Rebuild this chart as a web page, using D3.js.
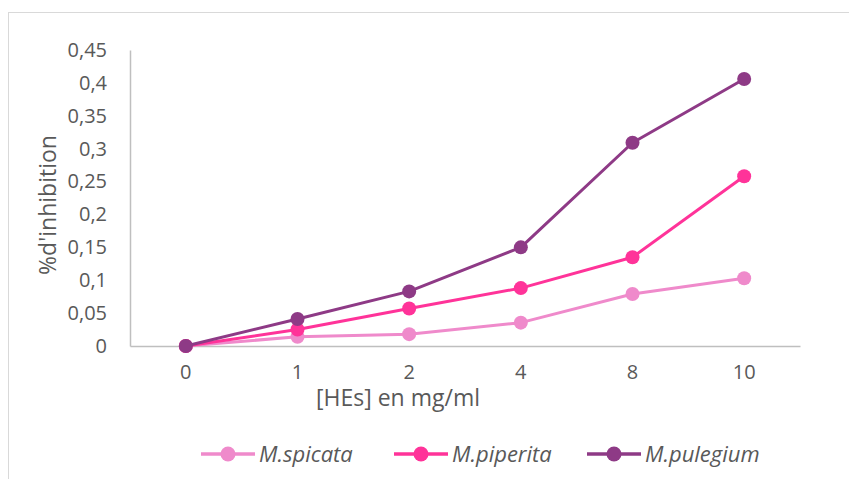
<!DOCTYPE html>
<html>
<head>
<meta charset="utf-8">
<script src="https://cdn.jsdelivr.net/npm/d3@7"></script>
<style>
  html, body { margin: 0; padding: 0; background: #fff; }
  svg { display: block; }
  text { font-family: "Open Sans", "Noto Sans", sans-serif; fill: #595959; }
</style>
</head>
<body>
<svg id="chart" width="849" height="479"></svg>
<script>
// Concentrations of essential oil (mg/ml)
const concentrations = ["0", "1", "2", "4", "8", "10"];
// Inhibition fraction per species
const spicata  = [0, 0.014, 0.018, 0.0355, 0.079, 0.103];
const piperita = [0, 0.025, 0.057, 0.088, 0.135, 0.258];
const pulegium = [0, 0.041, 0.083, 0.150, 0.309, 0.406];
const yTicks = [0, 0.05, 0.1, 0.15, 0.2, 0.25, 0.3, 0.35, 0.4, 0.45];

const seriesList = [
  { name: "M.spicata",  values: spicata,  color: "#EF8ACB" },
  { name: "M.piperita", values: piperita, color: "#FF3399" },
  { name: "M.pulegium", values: pulegium, color: "#8E3A86" }
];

const svg = d3.select("#chart");

// outer chart frame
svg.append("rect")
  .attr("x", 8.5).attr("y", 12.5)
  .attr("width", 860).attr("height", 480)
  .attr("fill", "none").attr("stroke", "#d9d9d9").attr("stroke-width", 1);

const x = d3.scaleBand().domain(concentrations).range([130, 800]);
const y = d3.scaleLinear().domain([0, 0.45]).range([346, 50]);

const fmt = d => d3.format("")(+d.toFixed(2)).replace(".", ",");

// y axis
const yAxis = svg.append("g")
  .attr("transform", "translate(130,0)")
  .call(d3.axisLeft(y).tickValues(yTicks).tickFormat(fmt).tickSize(0).tickPadding(23));
yAxis.select(".domain").attr("stroke", "#bfbfbf").attr("stroke-width", 1.5);
yAxis.selectAll("text").attr("font-size", 20).style("fill", "#595959")
  .attr("font-family", "'Open Sans', sans-serif");

// x axis
const xAxis = svg.append("g")
  .attr("transform", "translate(0,346)")
  .call(d3.axisBottom(x).tickSize(0).tickPadding(19));
xAxis.select(".domain").attr("stroke", "#bfbfbf").attr("stroke-width", 1.5);
xAxis.selectAll("text").attr("font-size", 20).style("fill", "#595959")
  .attr("font-family", "'Open Sans', sans-serif");

// axis titles
svg.append("text")
  .attr("x", 398).attr("y", 406)
  .attr("text-anchor", "middle")
  .attr("font-size", 23)
  .text("[HEs] en mg/ml");

svg.append("text")
  .attr("transform", "translate(56,205) rotate(-90)")
  .attr("text-anchor", "middle")
  .attr("font-size", 23)
  .text("%d'inhibition");

// series lines and markers
const line = d3.line()
  .x((d, i) => x(concentrations[i]) + x.bandwidth() / 2)
  .y(d => y(d));

seriesList.forEach(s => {
  const g = svg.append("g");
  g.append("path")
    .datum(s.values)
    .attr("d", line)
    .attr("fill", "none")
    .attr("stroke", s.color)
    .attr("stroke-width", 3)
    .attr("stroke-linejoin", "round");
  g.selectAll("circle")
    .data(s.values)
    .join("circle")
    .attr("cx", (d, i) => x(concentrations[i]) + x.bandwidth() / 2)
    .attr("cy", d => y(d))
    .attr("r", 7)
    .attr("fill", s.color);
});

// legend
const legendX = [201, 394, 587];
seriesList.forEach((s, i) => {
  const g = svg.append("g").attr("transform", `translate(${legendX[i]},454)`);
  g.append("line")
    .attr("x1", 0).attr("x2", 54)
    .attr("y1", 0).attr("y2", 0)
    .attr("stroke", s.color).attr("stroke-width", 3.5);
  g.append("circle").attr("cx", 27).attr("cy", 0).attr("r", 7.5).attr("fill", s.color);
  g.append("text")
    .attr("x", 58).attr("y", 8)
    .attr("font-size", 22)
    .attr("font-style", "italic")
    .text(s.name);
});
</script>
</body>
</html>
